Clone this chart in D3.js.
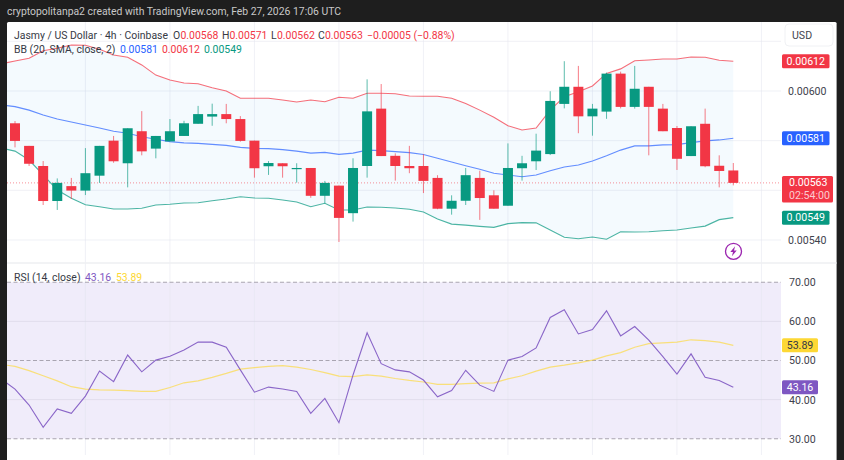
<!DOCTYPE html>
<html>
<head>
<meta charset="utf-8">
<style>
  html, body { margin: 0; padding: 0; background: #1e1e1e; }
  svg { display: block; }
  text { font-family: Roboto, "Open Sans", sans-serif; }
</style>
<script src="https://cdn.jsdelivr.net/npm/d3@7/dist/d3.min.js"></script>
</head>
<body>
<svg id="chart" width="844" height="460"></svg>
<script>
// Prices are held in units of 0.00001 USD.
const PRICE_UNIT = 1e-5;

const opens = [587.0,577.9,569.8,555.7,561.7,559.9,565.9,580.0,570.9,583.8,576.8,579.7,581.9,586.8,589.7,590.7,588.7,580.0,569.7,570.9,568.7,569.0,557.8,561.9,550.8,569.8,592.9,573.9,569.8,569.8,565.0,552.6,555.8,565.0,558.0,553.8,568.9,571.7,574.6,594.8,601.7,589.8,591.7,607.0,593.6,601.7,592.9,585.1,573.8,586.8,569.9,568];
const highs = [587.9,577.9,571.8,564.8,565.0,577.0,577.9,581.9,585.0,591.9,581.9,588.7,588.0,594.0,594.9,594.8,589.9,580.0,571.8,570.9,570.9,569.0,563.8,561.9,572.9,604.7,602.8,574.9,577.9,574.5,566.1,558.0,569.0,567.9,560.0,578.9,573.9,582.8,599.9,612.0,610.1,594.8,607.4,607.8,610.1,601.7,594.8,585.9,585.8,592.9,574.1,571];
const lows = [577.3,569.8,554.1,552.1,556.5,558.1,563.0,571.1,561.2,574.1,572.9,579.7,581.9,586.8,586.0,587.0,579.6,565.1,566.2,565.1,563.1,557.0,554.8,539.2,547.4,565.1,573.8,563.9,566.9,558.9,552.4,550.2,554.1,548.1,552.6,553.8,563.9,568.2,574.2,593.0,583.0,582.0,588.8,593.0,592.9,574.1,583.8,568.2,573.8,569.3,561.2,562];
const closes = [579.9,570.7,555.7,563.0,559.9,566.9,577.9,571.7,585.0,575.7,581.9,583.8,587.0,590.7,590.7,588.7,579.9,568.9,571.0,569.7,569.0,557.8,563.0,548.9,569.0,591.8,573.8,569.8,568.9,563.8,552.6,555.8,566.1,556.9,552.6,569.0,570.9,576.0,596.0,601.7,589.8,592.9,607.0,593.6,600.9,593.6,583.8,572.7,585.8,569.7,567.8,563];

// Indicator series carry one extra leading sample that sits just left of the pane.
const bbUpper = [610.9,612.1,613.2,616.2,617.2,618.5,618.4,616.8,614.5,613.6,610.5,606.4,604.4,603.2,602.9,601.3,600.0,597.1,597.1,597.1,596.4,595.6,596.4,595.7,597.5,597.1,599.1,599.1,598.9,598.0,597.9,597.9,597.1,595.0,592.3,589.4,586.0,584.3,585.1,592.3,597.7,599.7,602.0,607.1,608.9,612.2,612.5,612.9,612.9,613.7,613.6,612.4,612];
const bbBasis = [594.4,593.7,592.3,590.3,588.7,587.5,586.3,585.1,583.8,583.0,581.6,580.6,579.6,579.1,578.9,578.5,578.1,577.3,576.9,576.8,576.4,575.8,575.0,575.3,574.5,575.0,576.2,576.0,575.6,575.2,574.4,572.9,571.4,569.9,568.5,566.9,566.2,565.5,566.2,567.9,569.4,570.2,571.8,573.9,576.2,577.9,577.9,578.3,578.4,579.2,579.9,580.3,581];
const bbLower = [577.0,575.8,572.2,566.2,560.1,556.8,554.2,553.4,552.5,552.5,552.8,554.1,554.4,554.9,555.0,555.8,556.5,557.4,556.9,556.8,556.1,555.3,553.4,554.8,552.1,552.1,553.3,553.2,552.9,552.4,551.3,548.5,546.4,546.0,545.5,545.1,546.6,547.0,546.9,544.0,541.1,540.5,541.2,540.3,543.3,543.2,543.3,543.7,544.0,544.8,545.6,548.2,549];
const rsiValues = [45.3,42.7,38.6,32.9,37.6,36.5,40.9,47.3,44.6,51.4,47.1,50.1,51.1,52.7,54.7,54.7,53.4,47.6,41.9,43.2,42.7,42.1,36.5,40.3,34.1,46.3,57.1,49.2,47.6,47.1,45.0,40.7,42.3,47.5,43.7,42.1,50.1,51.0,53.2,61.0,63.0,56.8,57.9,62.7,56.3,58.7,55.2,51.0,46.5,51.7,45.7,44.9,43.16];
const rsiAverage = [49.0,48.5,47.4,46.1,44.8,43.3,42.7,42.5,42.4,42.3,42.1,42.1,43.1,44.3,44.8,45.7,46.7,47.8,48.2,48.5,48.7,48.3,47.7,46.9,46.0,45.9,46.3,46.0,45.4,44.9,44.5,43.9,43.9,44.1,44.2,44.3,45.3,46.1,47.3,48.3,48.8,49.4,50.1,51.2,52.0,53.4,54.3,54.5,54.7,55.3,55.1,54.7,53.89];

const priceTicks = [600, 540];
const priceGrid = [620, 600, 580, 560, 540];
const rsiTicks = [70, 60, 50, 40, 30];
const rsiDashed = [70, 50, 30];
const dayBoundaries = [5, 11, 17, 23, 29, 35, 41, 47, 53];
const lastPrice = 563;

const RED = "#f23645", GREEN = "#089981", BLUE = "#2962ff",
      PURPLE = "#7e57c2", YELLOW = "#fdd835", INK = "#363a45", AXIS_INK = "#3f434e";
const FONT_SIZE = 10.6, LEGEND_SIZE = 10.45;

const svg = d3.select("#chart");
const fmtPrice = v => (v * PRICE_UNIT).toFixed(5);
const fmtRsi = d3.format(".2f");

const pane = { left: 7, right: 781, top: 22, bottom: 460 };
const x = d3.scaleLinear().domain([0, 51]).range([15, 733.3]);
const y = d3.scaleLinear().domain([540, 600]).range([240, 91]);
const yRsi = d3.scaleLinear().domain([30, 70]).range([438.7, 282.3]);

// Window background and chart card
svg.append("rect").attr("width", 844).attr("height", 460).attr("fill", "#1e1e1e");
svg.append("rect").attr("x", pane.left).attr("y", pane.top)
  .attr("width", 829.6).attr("height", 440).attr("rx", 1.5).attr("fill", "#fff");

const defs = svg.append("defs");
defs.append("clipPath").attr("id", "plot").append("rect")
  .attr("x", pane.left).attr("y", pane.top).attr("width", pane.right - pane.left).attr("height", 438);

const plot = svg.append("g").attr("clip-path", "url(#plot)");

// RSI background band
plot.append("rect").attr("x", pane.left).attr("width", pane.right - pane.left)
  .attr("y", yRsi(70)).attr("height", yRsi(30) - yRsi(70)).attr("fill", "#f0ecfa");

// Gridlines
plot.selectAll(".vgrid").data(dayBoundaries).join("line")
  .attr("x1", d => x(d)).attr("x2", d => x(d))
  .attr("y1", pane.top).attr("y2", 455)
  .attr("stroke", "#e4e6ee").attr("stroke-opacity", 0.55);
plot.selectAll(".hgrid").data(priceGrid).join("line")
  .attr("x1", pane.left).attr("x2", pane.right)
  .attr("y1", d => y(d)).attr("y2", d => y(d))
  .attr("stroke", "#e4e6ee").attr("stroke-opacity", 0.55);
plot.selectAll(".rgrid").data(rsiTicks.filter(d => !rsiDashed.includes(d))).join("line")
  .attr("x1", pane.left).attr("x2", pane.right)
  .attr("y1", d => yRsi(d)).attr("y2", d => yRsi(d))
  .attr("stroke", "#dcd9e8").attr("stroke-opacity", 0.7);
plot.selectAll(".rdash").data(rsiDashed).join("line")
  .attr("x1", pane.left).attr("x2", pane.right)
  .attr("y1", d => yRsi(d)).attr("y2", d => yRsi(d))
  .attr("stroke", "#a9a5b1").attr("stroke-width", 1.1).attr("stroke-dasharray", "4 2.5");

// Divider between the price and RSI panes
svg.append("line").attr("x1", pane.left).attr("x2", 836.6).attr("y1", 263).attr("y2", 263)
  .attr("stroke", "#eeeff2").attr("stroke-width", 1.5);

// Bollinger band fill and lines
const xLead = (d, i) => x(i - 1);
plot.append("path").datum(bbUpper)
  .attr("fill", "#2196f3").attr("fill-opacity", 0.05)
  .attr("d", d3.area().x(xLead).y0((d, i) => y(bbLower[i])).y1(d => y(d)));
const lineOn = scale => d3.line().x(xLead).y(d => scale(d));
[[bbUpper, RED], [bbBasis, BLUE], [bbLower, GREEN]].forEach(([s, c]) => {
  plot.append("path").datum(s).attr("fill", "none").attr("stroke", c)
    .attr("stroke-opacity", 0.72).attr("stroke-width", 1.1).attr("d", lineOn(y));
});

// Last price dotted marker
plot.append("line").attr("x1", pane.left).attr("x2", pane.right)
  .attr("y1", y(lastPrice)).attr("y2", y(lastPrice))
  .attr("stroke", RED).attr("stroke-opacity", 0.55).attr("stroke-dasharray", "1 2");

// Candles
const candles = opens.map((o, i) => ({ i, o, h: highs[i], l: lows[i], c: closes[i] }));
const candle = plot.selectAll(".candle").data(candles).join("g").attr("class", "candle");
const tone = d => (d.c >= d.o ? GREEN : RED);
candle.append("line")
  .attr("x1", d => x(d.i)).attr("x2", d => x(d.i))
  .attr("y1", d => y(d.h)).attr("y2", d => y(d.l))
  .attr("stroke", tone).attr("stroke-opacity", 0.65);
candle.append("rect")
  .attr("x", d => x(d.i) - 5).attr("width", 10)
  .attr("y", d => y(Math.max(d.o, d.c)))
  .attr("height", d => Math.max(1.2, Math.abs(y(d.o) - y(d.c))))
  .attr("fill", tone);

// RSI lines
plot.append("path").datum(rsiAverage).attr("fill", "none").attr("stroke", YELLOW)
  .attr("stroke-opacity", 0.65).attr("stroke-width", 1.2).attr("d", lineOn(yRsi));
plot.append("path").datum(rsiValues).attr("fill", "none").attr("stroke", PURPLE)
  .attr("stroke-opacity", 0.9).attr("stroke-width", 1.1).attr("d", lineOn(yRsi));

// Axes
const priceAxis = d3.axisRight(y).tickValues(priceTicks).tickFormat(fmtPrice).tickSize(0).tickPadding(0);
const rsiAxis = d3.axisRight(yRsi).tickValues(rsiTicks).tickFormat(fmtRsi).tickSize(0).tickPadding(0);
[svg.append("g").attr("transform", "translate(788,0)").call(priceAxis),
 svg.append("g").attr("transform", "translate(789,0)").call(rsiAxis)].forEach(g => {
  g.select(".domain").remove();
  g.selectAll("text").attr("font-size", FONT_SIZE).attr("fill", AXIS_INK)
    .style("font-family", 'Roboto, sans-serif');
});

// Value badges on the right scale
function badge(value, label, fill, opts = {}) {
  const scale = opts.scale || y;
  const cy = scale(value);
  const w = opts.w || 47.5;
  svg.append("rect").attr("x", 782).attr("y", cy - 7).attr("width", w).attr("height", 14)
    .attr("rx", 1.5).attr("fill", fill);
  svg.append("text").attr("x", 782 + w / 2).attr("y", cy + 3.7).attr("text-anchor", "middle")
    .attr("font-size", FONT_SIZE).attr("fill", opts.ink || "#fff").text(label);
}
badge(612, fmtPrice(612), RED);
badge(581, fmtPrice(581), BLUE);
badge(549, fmtPrice(549), GREEN);
badge(53.89, fmtRsi(53.89), YELLOW, { scale: yRsi, w: 36, ink: INK });
badge(43.16, fmtRsi(43.16), PURPLE, { scale: yRsi, w: 36 });

// Last-price tag with bar countdown
svg.append("rect").attr("x", 782).attr("y", 176).attr("width", 51).attr("height", 26.5)
  .attr("rx", 1.5).attr("fill", RED);
svg.append("text").attr("x", 789).attr("y", y(lastPrice) + 3.2).attr("font-size", FONT_SIZE)
  .attr("fill", "#fff").text(fmtPrice(lastPrice));
svg.append("text").attr("x", 789).attr("y", 199).attr("font-size", FONT_SIZE)
  .attr("fill", "#fff").attr("fill-opacity", 0.75).text("02:54:00");

// Currency button
svg.append("rect").attr("x", 785).attr("y", 24).attr("width", 48).attr("height", 22).attr("rx", 4)
  .attr("fill", "#fff").attr("stroke", "#f0f1f4");
svg.append("text").attr("x", 792).attr("y", 39).attr("font-size", FONT_SIZE).attr("fill", AXIS_INK).text("USD");

// Header and legends
svg.append("text").attr("x", 7).attr("y", 15).attr("font-size", 10.4).attr("fill", "#c8c8c8")
  .text("cryptopolitanpa2 created with TradingView.com, Feb 27, 2026 17:06 UTC");

function legend(py, items) {
  items.forEach(([px, str, fill]) => {
    svg.append("text").attr("x", px).attr("y", py).attr("font-size", LEGEND_SIZE)
      .attr("fill", fill).text(str);
  });
}
legend(39, [
  [14, "Jasmy / US Dollar · 4h · Coinbase", INK],
  [173, "O", INK], [180.5, "0.00568", RED],
  [222, "H", INK], [229.5, "0.00571", RED],
  [271, "L", INK], [277, "0.00562", RED],
  [318, "C", INK], [325, "0.00563", RED],
  [367, "−0.00005 (−0.88%)", RED]
]);
legend(53, [
  [14, "BB (20, SMA, close, 2)", INK],
  [120, "0.00581", BLUE], [162, "0.00612", RED], [204, "0.00549", GREEN]
]);
legend(281, [
  [14, "RSI (14, close)", INK],
  [85, "43.16", PURPLE], [116, "53.89", YELLOW]
]);

// Lightning badge
const bolt = svg.append("g").attr("transform", "translate(733.5,251.3)");
bolt.append("circle").attr("r", 8).attr("fill", "#fff").attr("stroke", "#9c27b0").attr("stroke-width", 1.3);
bolt.append("path").attr("d", "M1.6,-5 L-3.2,0.8 L-0.5,0.8 L-1.6,5 L3.2,-0.8 L0.5,-0.8 Z").attr("fill", "#9c27b0");
</script>
</body>
</html>
